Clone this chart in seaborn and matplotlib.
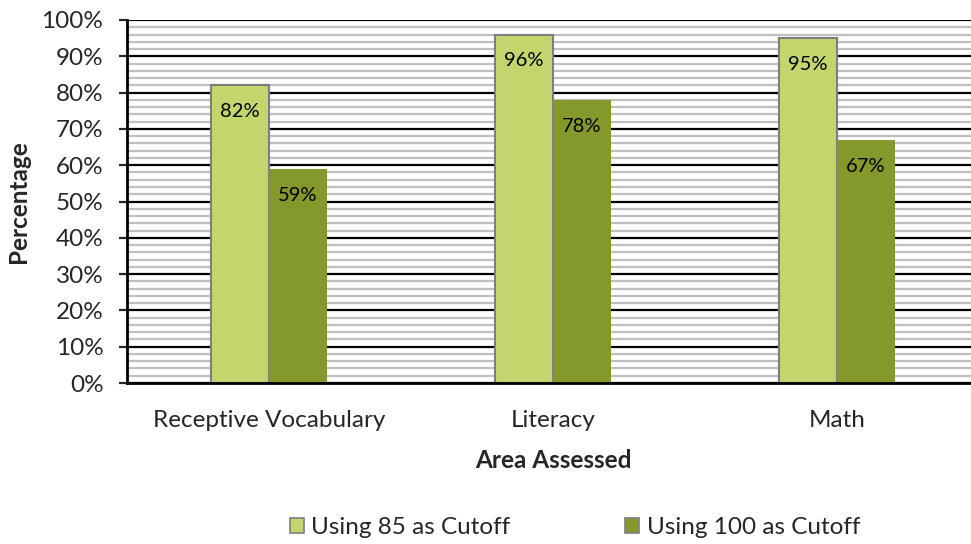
import numpy as np
import pandas as pd
import matplotlib.pyplot as plt
import seaborn as sns
from matplotlib.ticker import MultipleLocator, PercentFormatter

areas = ['Receptive Vocabulary', 'Literacy', 'Math']
cutoff_85 = [82, 96, 95]
cutoff_100 = [59, 78, 67]
series = ['Using 85 as Cutoff', 'Using 100 as Cutoff']
colors = ['#C3D66E', '#84992B']

df = pd.DataFrame({
    'area': areas * 2,
    'value': cutoff_85 + cutoff_100,
    'series': [series[0]] * 3 + [series[1]] * 3,
})

sns.set_style('white')
plt.rcParams['font.family'] = ['Lato', 'DejaVu Sans']

fig = plt.figure(figsize=(9.71, 5.44), dpi=100)
ax = fig.add_axes([127 / 971, 1 - 383 / 544, 852 / 971, 363 / 544])

sns.barplot(data=df, x='area', y='value', hue='series', palette=colors,
            width=0.41, ax=ax, legend=False, saturation=1)

# edges: light bars have a grey border
for i, cont in enumerate(ax.containers):
    for p in cont:
        if i == 0:
            p.set_edgecolor('#7F7F7F')
            p.set_linewidth(1.5)
        else:
            p.set_edgecolor('#84992B')
            p.set_linewidth(0)
    ax.bar_label(cont, labels=[f'{v:.0f}%' for v in cont.datavalues],
                 padding=-25, fontsize=14.5, color='#000000')

ax.set_ylim(0, 100)
ax.set_xlim(-0.5, 2.5)
ax.yaxis.set_major_locator(MultipleLocator(10))
ax.yaxis.set_minor_locator(MultipleLocator(2))
ax.yaxis.set_major_formatter(PercentFormatter(decimals=0))
ax.set_axisbelow(True)
ax.grid(True, which='major', axis='y', color='#000000', linewidth=1.6)
ax.grid(True, which='minor', axis='y', color='#BFBFBF', linewidth=1.6)

for s in ['top', 'right']:
    ax.spines[s].set_visible(False)
for s in ['left', 'bottom']:
    ax.spines[s].set_color('#000000')
    ax.spines[s].set_linewidth(2)

ax.tick_params(axis='y', which='major', left=True, length=6, width=1.6,
               labelsize=17.5, pad=11)
ax.tick_params(axis='y', which='minor', left=False)
ax.tick_params(axis='x', bottom=False, labelsize=17.5, pad=16)

ax.set_xlabel('Area Assessed', fontsize=17.5, fontweight='bold', labelpad=13)
ax.set_ylabel('Percentage', fontsize=17.5, fontweight='bold', labelpad=8)

handles = [plt.Rectangle((0, 0), 1, 1, facecolor=c, edgecolor='#7F7F7F', linewidth=1.2)
           for c in colors]
fig.legend(handles, series, loc='center', bbox_to_anchor=(0.592, 0.030),
           ncol=2, frameon=False, fontsize=17.5, handlelength=0.6,
           handleheight=0.6, handletextpad=0.3, columnspacing=4.7)

fig.savefig('out.png', dpi=100)
